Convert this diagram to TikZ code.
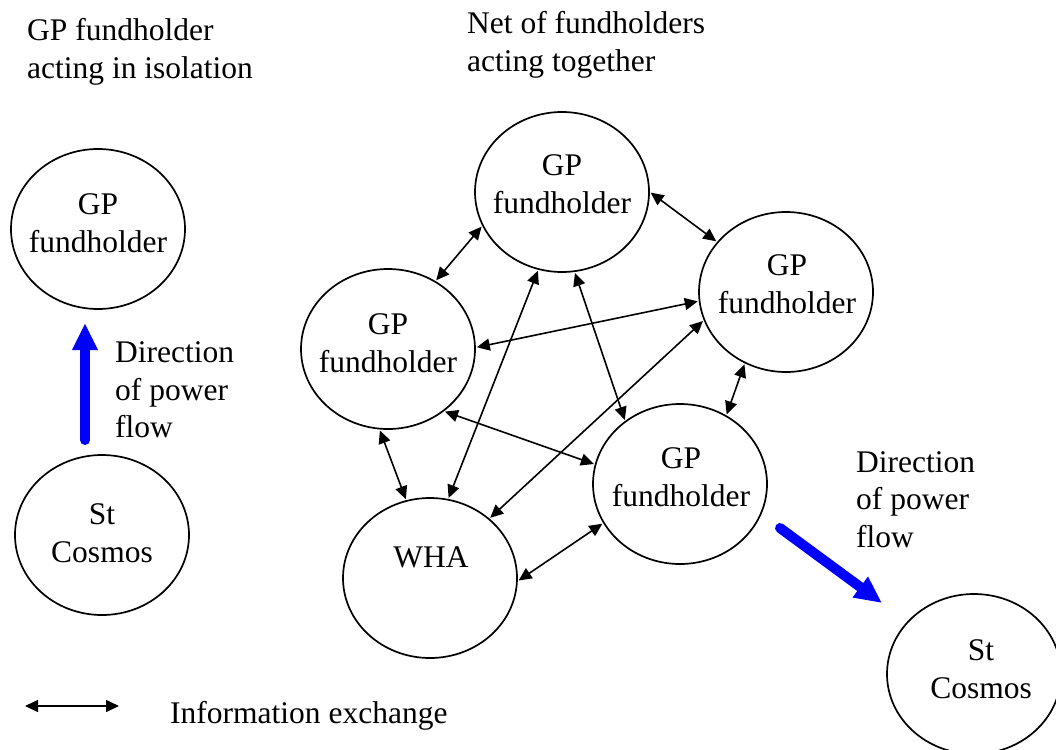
\documentclass[tikz,border=0pt]{standalone}
\usepackage{fontspec}
\setmainfont{Liberation Serif}
\usetikzlibrary{arrows.meta,shapes.geometric}
\begin{document}
\begin{tikzpicture}[x=1pt,y=-1pt,
  party/.style={ellipse, draw, line width=1.7pt, minimum width=174pt,
    minimum height=160pt, inner sep=0pt},
  % multi-line labels are anchored at the baseline of their last line
  lbl/.style={font=\fontsize{31.5}{37.5}\selectfont, inner sep=0pt,
    align=center, anchor=base},
  note/.style={font=\fontsize{31.5}{37.5}\selectfont, inner sep=0pt,
    align=left, anchor=base west},
  info/.style={line width=1.6pt,
    {Triangle[length=13pt,width=12pt]}-{Triangle[length=13pt,width=12pt]},
    shorten <=1pt, shorten >=1pt},
  power/.style={line width=10pt, blue, line cap=round,
    -{Triangle[length=27pt,width=24pt]}}]
\useasboundingbox (0,0) rectangle (1056,749);

% headings
\node[note] (hd-iso) at (27,78.5) {GP fundholder\\acting in isolation};
\node[note] (hd-net) at (467,71.5) {Net of fundholders\\acting together};

% isolated fundholder
\node[party] (lgp) at (98,229) {};
\node[party] (lsc) at (102,535) {};
\node[lbl] (lgp-t) at (98,252) {GP\\fundholder};
\node[lbl] (lsc-t) at (102,562) {St\\Cosmos};

% network of fundholders
\node[party] (tgp) at (562,192) {};
\node[party] (mgp) at (388,349) {};
\node[party] (rgp) at (786,292) {};
\node[party] (bgp) at (680,484) {};
\node[party] (wha) at (430,578) {};
\node[party] (ssc) at (974,674) {};
\node[lbl] (tgp-t) at (562,213) {GP\\fundholder};
\node[lbl] (mgp-t) at (388,372) {GP\\fundholder};
\node[lbl] (rgp-t) at (787,313) {GP\\fundholder};
\node[lbl] (bgp-t) at (681,506) {GP\\fundholder};
\node[lbl] (wha-t) at (431,567) {WHA};
\node[lbl] (ssc-t) at (981,698) {St\\Cosmos};

% information exchange between all members
\draw[info] (tgp.203) -- (mgp.55);
\draw[info] (tgp.0) -- (rgp.144.6);
\draw[info] (mgp.1.3) -- (rgp.186.1);
\draw[info] (tgp.253.8) -- (wha.77.7);
\draw[info] (tgp.279.7) -- (bgp.131.3);
\draw[info] (rgp.199.2) -- (wha.45.9);
\draw[info] (mgp.312.6) -- (bgp.167.7);
\draw[info] (mgp.264.5) -- (wha.107.4);
\draw[info] (rgp.240.2) -- (bgp.56.5);
\draw[info] (wha.358.7) -- (bgp.207.1);

% direction of power flow
\coordinate (pwA) at (85,440);
\coordinate (pwB) at (85,323);
\draw[power] (pwA) -- (pwB);
\node[note] (pw-iso) at (115,437.5) {Direction\\of power\\flow};
\coordinate (pwC) at (780,528);
\coordinate (pwD) at (882,603);
\draw[power] (pwC) -- (pwD);
\node[note] (pw-net) at (856,547) {Direction\\of power\\flow};

% legend
\coordinate (legA) at (25,706);
\coordinate (legB) at (119,706);
\draw[info, shorten <=0pt, shorten >=0pt] (legA) -- (legB);
\node[note] (leg-t) at (170,723) {Information exchange};
\end{tikzpicture}
\end{document}
